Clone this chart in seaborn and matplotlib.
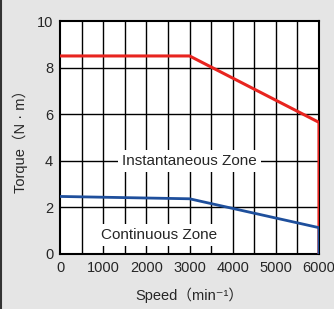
import matplotlib
matplotlib.use('Agg')
import matplotlib.pyplot as plt
import seaborn as sns
import pandas as pd

# torque-speed curve data
speed_inst = [0, 3000, 6000, 6000]
torque_inst = [8.5, 8.5, 5.65, 0]
speed_cont = [0, 3000, 6000, 6000]
torque_cont = [2.47, 2.37, 1.13, 0]

sns.set_style('white')
plt.rcParams['font.family'] = ['Liberation Sans', 'Noto Sans CJK JP', 'DejaVu Sans']

fig = plt.figure(figsize=(3.34, 3.09), dpi=100, facecolor='#e5e5e5')
ax = fig.add_axes([0.18, 0.178, 0.775, 0.754])
ax.set_facecolor('white')

for v in range(500, 6000, 500):
    ax.axvline(v, color='black', lw=1.0, zorder=1)
for v in [2, 4, 6, 8]:
    ax.axhline(v, color='black', lw=1.0, zorder=1)

df_i = pd.DataFrame({'speed': speed_inst, 'torque': torque_inst})
df_c = pd.DataFrame({'speed': speed_cont, 'torque': torque_cont})
sns.lineplot(data=df_i, x='speed', y='torque', sort=False, estimator=None,
             color='#e8241f', lw=2.2, ax=ax, zorder=4)
sns.lineplot(data=df_c, x='speed', y='torque', sort=False, estimator=None,
             color='#1e4f9c', lw=2.0, ax=ax, zorder=5)

ax.text(3000, 4, 'Instantaneous Zone', ha='center', va='center', fontsize=11,
        bbox=dict(facecolor='white', edgecolor='none', pad=3), zorder=3)
ax.text(2300, 0.8, 'Continuous Zone', ha='center', va='center', fontsize=11,
        bbox=dict(facecolor='white', edgecolor='none', pad=3), zorder=3)

ax.set_xlim(0, 6000)
ax.set_ylim(0, 10)
ax.set_xticks(range(0, 6001, 1000))
ax.set_yticks(range(0, 11, 2))
ax.tick_params(length=0, labelsize=10.5, pad=5)
ax.set_xlabel('Speed（min⁻¹）', fontsize=10.5, labelpad=9)
ax.set_ylabel('Torque（N · m）', fontsize=10.5, labelpad=6)
for s in ax.spines.values():
    s.set_color('black')
    s.set_linewidth(1.5)

fig.add_artist(plt.Line2D([0.002, 0.002], [0, 1], color='#333333', lw=1.5,
                          transform=fig.transFigure))
fig.savefig('out.png', dpi=100, facecolor=fig.get_facecolor())
